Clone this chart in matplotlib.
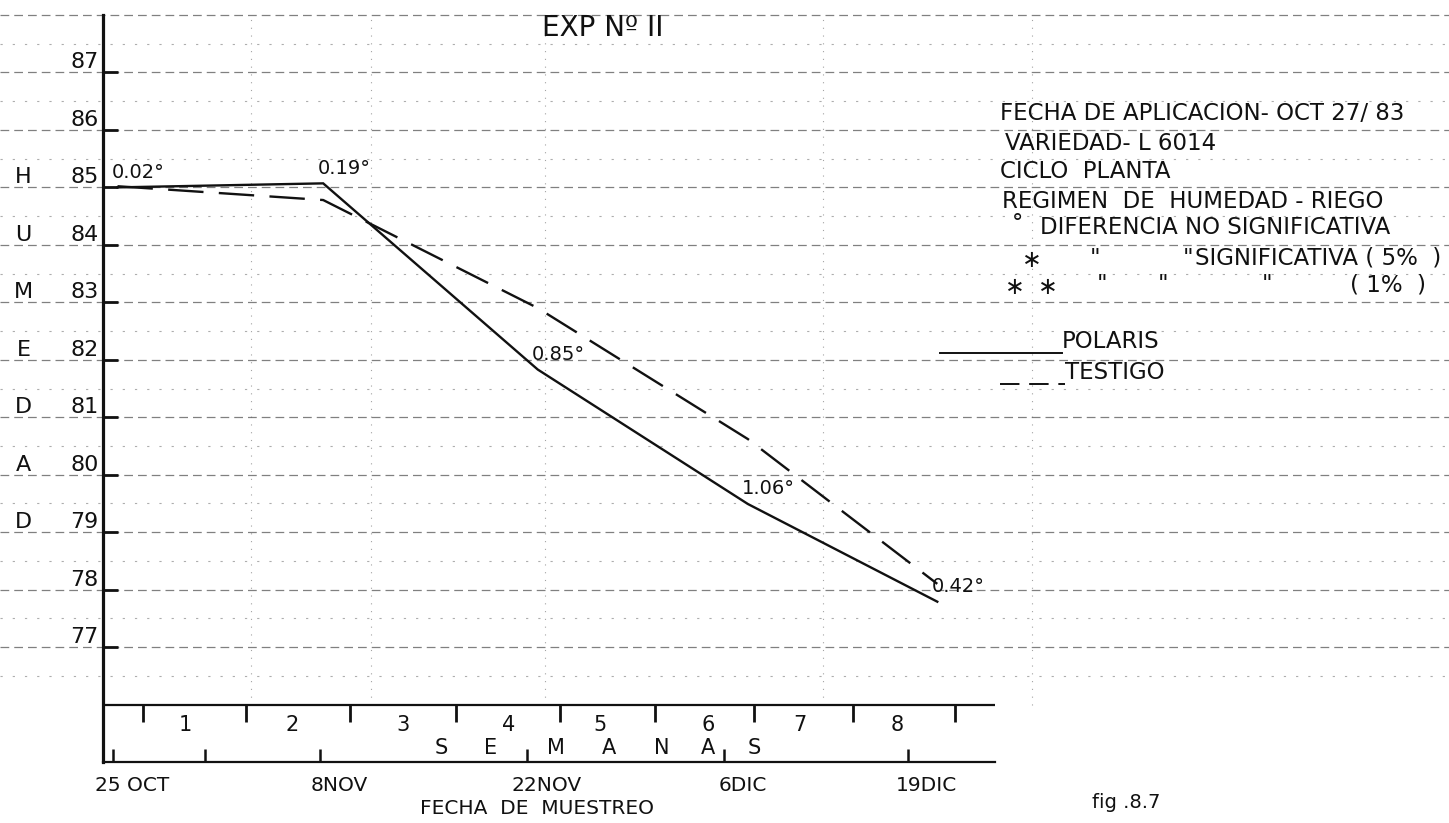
import matplotlib
matplotlib.use("Agg")
import matplotlib.pyplot as plt
import numpy as np
from matplotlib.lines import Line2D
from matplotlib.transforms import ScaledTranslation

# ---------------- data (x in days since 25 OCT, y = humedad %) ----------------
date_pos = [0, 6.2, 14, 28, 41.3, 53.7]
date_labels = ["25 OCT", "", "8NOV", "22NOV", "6DIC", "19DIC"]
week_tick_pos = [2.0, 9.0, 16.0, 23.2, 30.2, 36.6, 43.3, 50.0, 56.9]
week_label_pos = [4.9, 12.1, 19.6, 26.7, 32.9, 40.2, 46.4, 53.0]
week_labels = ["1", "2", "3", "4", "5", "6", "7", "8"]
semanas_pos = [22.2, 25.5, 29.9, 33.5, 37.1, 40.2, 43.3]
semanas_letters = ["S", "E", "M", "A", "N", "A", "S"]
sample_x = [0.3, 14.2, 28.7, 42.9, 55.7]
polaris = [85.0, 85.07, 81.83, 79.49, 77.79]
testigo = [85.02, 84.78, 82.90, 80.62, 78.10]
diff_labels = ["0.02°", "0.19°", "0.85°", "1.06°", "0.42°"]
y_ticks = list(range(77, 88))
ylabel_letters = ["H", "U", "M", "E", "D", "A", "D"]
ylabel_levels = [85, 84, 83, 82, 81, 80, 79]
vgrid_pos = [9.3, 17.4, 29.2, 48.0, 62.1]

W, H, DPI = 1449, 823, 100
fig = plt.figure(figsize=(W / DPI, H / DPI), dpi=DPI)
fig.patch.set_facecolor("white")


def fx(px):
    return px / W


def fy(py):
    return 1 - py / H


ax = fig.add_axes([fx(103), fy(762), fx(995) - fx(103), fy(15) - fy(762)])
ax.set_xlim(-0.68, 59.6)
ax.set_ylim(75, 88)
ax.set_facecolor("none")
ink = "#111111"

# ---------- faint graph-paper grid ----------
for v in np.arange(76.5, 88.01, 0.5):
    if float(v).is_integer():
        ax.axhline(v, xmin=-0.115, xmax=1.51, color="#555555", lw=0.9,
                   ls=(0, (7, 4)), alpha=0.75, clip_on=False, zorder=0)
    else:
        ax.axhline(v, xmin=-0.115, xmax=1.51, color="#777777", lw=0.8,
                   ls=(0, (2, 9)), alpha=0.6, clip_on=False, zorder=0)
for xv in vgrid_pos:
    ax.axvline(xv, ymin=1 / 13, ymax=1.0, color="#666666", lw=0.8,
               ls=(0, (1, 6)), alpha=0.6, clip_on=False, zorder=0)

# ---------- axes frame ----------
for s in ["top", "right"]:
    ax.spines[s].set_visible(False)
ax.spines["left"].set_linewidth(2.3)
ax.spines["bottom"].set_linewidth(1.6)
ax.spines["left"].set_color(ink)
ax.spines["bottom"].set_color(ink)

ax.set_yticks(y_ticks)
ax.set_yticklabels([str(t) for t in y_ticks])
ax.tick_params(axis="y", direction="in", length=11, width=2.0, pad=3,
               labelsize=16, colors=ink)
for lab in ax.get_yticklabels():
    lab.set_transform(lab.get_transform() + ScaledTranslation(0, 0.12, fig.dpi_scale_trans))

ax.set_xticks(date_pos)
ax.set_xticklabels(date_labels)
ax.tick_params(axis="x", direction="in", length=9.5, width=1.8, pad=10,
               labelsize=14.5, colors=ink)
for lab in ax.get_xticklabels():
    lab.set_transform(lab.get_transform() + ScaledTranslation(0.19, 0, fig.dpi_scale_trans))

# weeks line and ticks
ax.axhline(76, color=ink, lw=1.6, zorder=2)
ax.vlines(week_tick_pos, 75.7, 76, color=ink, lw=2.0, zorder=2)
for xp, lab in zip(week_label_pos, week_labels):
    ax.text(xp, 75.64, lab, fontsize=15, ha="center", va="center", color=ink)
for xp, lab in zip(semanas_pos, semanas_letters):
    ax.text(xp, 75.24, lab, fontsize=15, ha="center", va="center", color=ink)

# HUMEDAD vertical letters
ytr = ax.get_yaxis_transform() + ScaledTranslation(0, 0.10, fig.dpi_scale_trans)
for lv, letter in zip(ylabel_levels, ylabel_letters):
    ax.text(-0.089, lv, letter, transform=ytr, fontsize=16, ha="center",
            va="center", color=ink)

# ---------- data lines ----------
ax.plot(sample_x, polaris, color=ink, lw=1.7, solid_joinstyle="miter", zorder=3)
ax.plot(sample_x, testigo, color=ink, lw=1.7, ls=(0, (15, 6.5)), zorder=3)

for xv, yv, lab in zip(sample_x, polaris, diff_labels):
    ax.annotate(lab, (xv, yv), xytext=(-4, 11), textcoords="offset points",
                ha="left", va="center", fontsize=14, color=ink, zorder=4)

# ---------- texts ----------
fig.text(fx(603), fy(28), "EXP Nº II", fontsize=20, ha="center", va="center", color=ink)
fig.text(fx(537), fy(809), "FECHA  DE  MUESTREO", fontsize=14.5, ha="center",
         va="center", color=ink)
fig.text(fx(1092), fy(803), "fig .8.7", fontsize=14, ha="left", va="center", color=ink)

tk = dict(fontsize=16.5, ha="left", va="center", color=ink)
st = dict(fontsize=17, ha="left", va="center", color=ink)
fig.text(fx(1000), fy(113), "FECHA DE APLICACION- OCT 27/ 83", **tk)
fig.text(fx(1005), fy(143), "VARIEDAD- L 6014", **tk)
fig.text(fx(1000), fy(172), "CICLO  PLANTA", **tk)
fig.text(fx(1002), fy(202), "REGIMEN  DE  HUMEDAD - RIEGO", **tk)
fig.text(fx(1012), fy(224), "°", **tk)
fig.text(fx(1040), fy(228), "DIFERENCIA NO SIGNIFICATIVA", **tk)
fig.text(fx(1022), fy(260), "∗", **st)
fig.text(fx(1090), fy(258), "\"", **tk)
fig.text(fx(1183), fy(258), "\"", **tk)
fig.text(fx(1195), fy(258), "SIGNIFICATIVA ( 5%  )", **tk)
fig.text(fx(1005), fy(287), "∗", **st)
fig.text(fx(1038), fy(287), "∗", **st)
fig.text(fx(1097), fy(285), "\"", **tk)
fig.text(fx(1158), fy(285), "\"", **tk)
fig.text(fx(1262), fy(285), "\"", **tk)
fig.text(fx(1350), fy(285), "( 1%  )", **tk)

fig.add_artist(Line2D([fx(940), fx(1062)], [fy(353), fy(353)], color=ink, lw=1.4,
                      transform=fig.transFigure))
fig.text(fx(1062), fy(342), "POLARIS", **tk)
fig.add_artist(Line2D([fx(1000), fx(1065)], [fy(384), fy(384)], color=ink, lw=1.4,
                      ls=(0, (10, 5)), transform=fig.transFigure))
fig.text(fx(1065), fy(373), "TESTIGO", **tk)

fig.savefig("out.png", dpi=DPI, facecolor="white")
